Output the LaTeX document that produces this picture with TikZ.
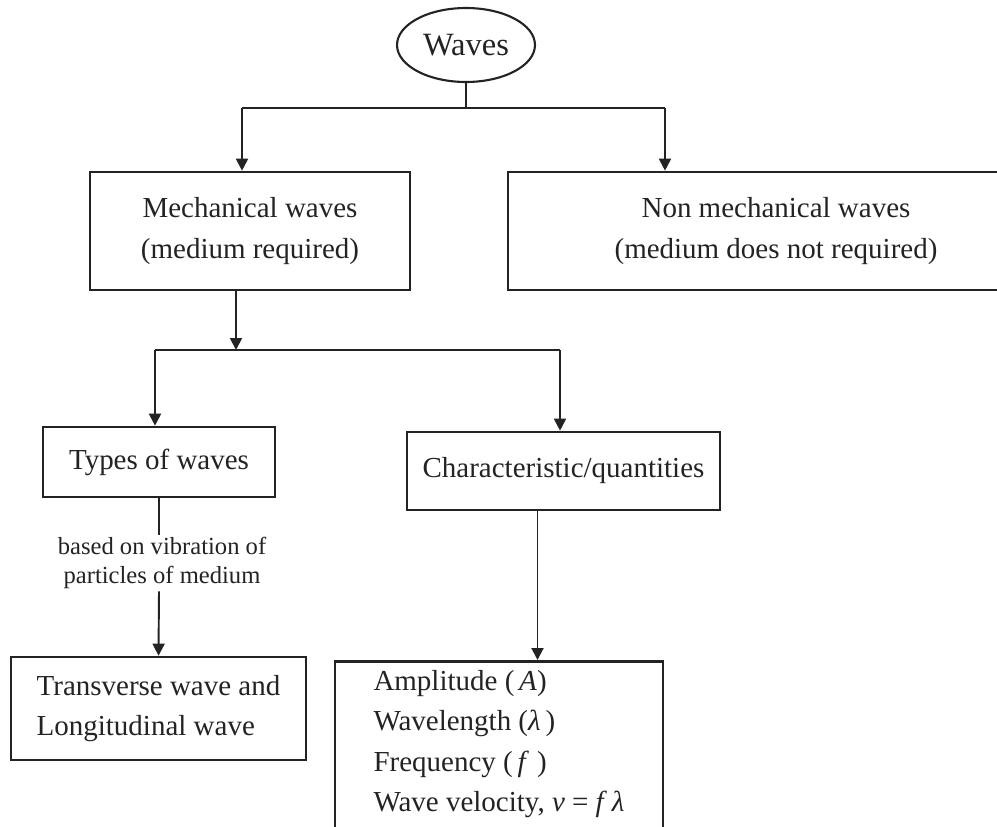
\documentclass[tikz,border=0pt]{standalone}
\usepackage{fontspec}
\setmainfont{Liberation Serif}
\usetikzlibrary{arrows.meta,shapes.geometric}
\definecolor{inkgray}{RGB}{35,35,35}
\tikzset{wavebox/.style={rectangle, draw=inkgray, line width=1.5pt, inner sep=0pt,
  align=center, text=inkgray}}
\tikzset{rootnode/.style={ellipse, draw=inkgray, line width=1.2pt, inner sep=0pt,
  minimum width=2.76cm, minimum height=1.48cm, text=inkgray, font=\fontsize{18.5}{22}\selectfont}}
\tikzset{flow/.style={-{Triangle[width=2.4mm,length=2.4mm]}, draw=inkgray, line width=1.1pt}}
\tikzset{link/.style={draw=inkgray, line width=1.1pt}}

\begin{document}
\begin{tikzpicture}[x=0.02cm, y=-0.02cm, font=\fontsize{16.5}{23}\selectfont]
  \path[use as bounding box] (0,0) rectangle (997,827);
  \clip (0,0) rectangle (997,827);
  % top level
  \node[rootnode] (waves) at (466,45) {Waves};
  \node[wavebox, minimum width=6.4cm, minimum height=2.36cm] (mech) at (250,231)
    {Mechanical waves\\(medium required)};
  \node[wavebox, minimum width=10.72cm, minimum height=2.36cm] (nonmech) at (776,231)
    {Non mechanical waves\\(medium does not required)};
  \coordinate (tl) at (242,108);
  \coordinate (tr) at (665,108);
  \draw[link] (waves.south) -- (waves.south |- tl);
  \draw[link] (tl) -- (tr);
  \draw[flow] (tl) -- (tl |- mech.north);
  \draw[flow] (tr) -- (tr |- nonmech.north);
  % mechanical waves
  \node[wavebox, minimum width=4.64cm, minimum height=1.4cm] (types) at (159,462) {Types of waves};
  \node[wavebox, minimum width=6.26cm, minimum height=1.56cm] (charq) at (563.5,471) {Characteristic/quantities};
  \path (mech.south) ++(-14,0) coordinate (ms);
  \coordinate (ml) at (155,350);
  \coordinate (mr) at (560,350);
  \draw[flow] (ms) -- (ms |- ml);
  \draw[link] (ml) -- (mr);
  \draw[flow] (ml) -- (ml |- types.north);
  \draw[flow] (mr) -- (mr |- charq.north);
  % bottom level
  \node[inner sep=1pt, align=center, text=inkgray, font=\fontsize{14}{17}\selectfont] (basis) at (162,563)
    {based on vibration of\\particles of medium};
  \node[wavebox, align=left, minimum width=5.9cm, minimum height=2.06cm] (trans) at (158.5,708.5)
    {Transverse wave and\\Longitudinal wave};
  \node[wavebox, align=left, minimum width=6.56cm, anchor=north, inner ysep=0.18cm, text depth=1.2cm] (props) at (499,660)
    {Amplitude (\,\textit{A})\\Wavelength (\textit{λ}\,)\\Frequency (\,\textit{f}\;)\\Wave velocity, \textit{v} = \textit{f}\,\textit{λ}};
  \draw[link] (types.south) -- (types.south |- basis.north);
  \draw[flow] (types.south |- basis.south) -- (trans.north);
  \path (charq.south) ++(-26,0) coordinate (cs);
  \draw[flow] (cs) -- (cs |- props.north);
\end{tikzpicture}
\end{document}
